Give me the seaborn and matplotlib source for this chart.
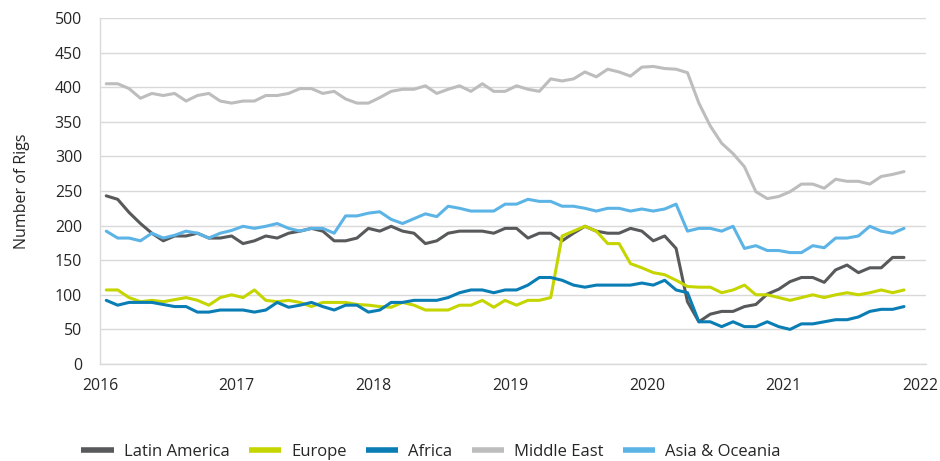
import numpy as np
import pandas as pd
import matplotlib
matplotlib.use("Agg")
import matplotlib.pyplot as plt
import seaborn as sns
from matplotlib.lines import Line2D

# Monthly rig counts, Jan 2016 .. Nov 2021
latin_america = [243, 238, 219, 203, 189, 178, 185, 185, 189, 182, 182, 185,
                 174, 178, 185, 182, 189, 192, 196, 192, 178, 178, 182, 196,
                 192, 199, 192, 189, 174, 178, 189, 192, 192, 192, 189, 196,
                 196, 182, 189, 189, 178, 189, 199, 192, 189, 189, 196, 192,
                 178, 185, 167, 90, 61, 72, 76, 76, 83, 86, 101, 108,
                 119, 125, 125, 118, 136, 143, 132, 139, 139, 154, 154]
europe = [107, 107, 96, 90, 92, 90, 93, 96, 92, 85, 96, 100,
          96, 107, 92, 90, 92, 89, 83, 89, 89, 89, 86, 85,
          83, 82, 89, 85, 78, 78, 78, 85, 85, 92, 82, 92,
          85, 92, 92, 96, 185, 192, 199, 192, 174, 174, 145, 139,
          132, 129, 121, 112, 111, 111, 103, 107, 114, 100, 100, 96,
          92, 96, 100, 96, 100, 103, 100, 103, 107, 103, 107]
africa = [92, 85, 89, 89, 89, 86, 83, 83, 75, 75, 78, 78,
          78, 75, 78, 89, 82, 85, 89, 83, 78, 85, 85, 75,
          78, 89, 89, 92, 92, 92, 96, 103, 107, 107, 103, 107,
          107, 114, 125, 125, 121, 114, 111, 114, 114, 114, 114, 117,
          114, 121, 107, 103, 61, 61, 54, 61, 54, 54, 61, 54,
          50, 58, 58, 61, 64, 64, 68, 76, 79, 79, 83]
middle_east = [405, 405, 398, 384, 391, 388, 391, 380, 388, 391, 380, 377,
               380, 380, 388, 388, 391, 398, 398, 391, 394, 383, 377, 377,
               385, 394, 397, 397, 402, 391, 397, 402, 394, 405, 394, 394,
               402, 397, 394, 412, 409, 412, 422, 415, 426, 422, 416, 429,
               430, 427, 426, 421, 377, 344, 319, 304, 285, 249, 239, 242,
               249, 260, 260, 254, 267, 264, 264, 260, 271, 274, 278]
asia_oceania = [192, 182, 182, 178, 189, 182, 186, 192, 189, 182, 189, 193,
                199, 196, 199, 203, 196, 192, 196, 196, 189, 214, 214, 218,
                220, 209, 203, 210, 217, 213, 228, 225, 221, 221, 221, 231,
                231, 238, 235, 235, 228, 228, 225, 221, 225, 225, 221, 224,
                221, 224, 231, 192, 196, 196, 192, 199, 167, 171, 164, 164,
                161, 161, 171, 168, 182, 182, 185, 199, 192, 189, 196]

series_names = ["Latin America", "Europe", "Africa", "Middle East", "Asia & Oceania"]
series_values = [latin_america, europe, africa, middle_east, asia_oceania]
colors = ["#58595b", "#c5d500", "#0a7db5", "#bdbdbd", "#5cb4e6"]
year_ticks = [2016, 2017, 2018, 2019, 2020, 2021, 2022]
y_ticks = [0, 50, 100, 150, 200, 250, 300, 350, 400, 450, 500]

n = len(latin_america)
months = np.arange(n)
time = 2016 + (months + 0.55) / 12.0

frames = []
for name, vals in zip(series_names, series_values):
    frames.append(pd.DataFrame({"time": time, "rigs": vals, "region": name}))
df = pd.concat(frames, ignore_index=True)

sns.set_theme(style="white")
plt.rcParams["font.family"] = ["Open Sans", "DejaVu Sans"]

fig = plt.figure(figsize=(9.4, 4.61), dpi=100)
ax = fig.add_axes([100 / 940, 97 / 461, 826 / 940, 346 / 461])

sns.lineplot(data=df, x="time", y="rigs", hue="region", hue_order=series_names,
             palette=dict(zip(series_names, colors)), linewidth=2.2, ax=ax,
             legend=False)

ax.set_xlim(2016, 2022.04)
ax.set_ylim(0, 500)
ax.set_xticks(year_ticks)
ax.set_xticklabels([str(y) for y in year_ticks])
ax.set_yticks(y_ticks)
ax.set_xlabel("")
ax.set_ylabel("Number of Rigs", fontsize=11.5, color="#262626", labelpad=18)

ax.yaxis.grid(True, color="#d9d9d9", linewidth=1.0)
ax.xaxis.grid(False)
for s in ["top", "right"]:
    ax.spines[s].set_visible(False)
for s in ["left", "bottom"]:
    ax.spines[s].set_color("#d9d9d9")
    ax.spines[s].set_linewidth(1.0)
ax.tick_params(axis="both", which="both", colors="#d9d9d9", length=5, width=1,
               labelcolor="#262626", labelsize=11.4)
ax.tick_params(axis="x", pad=5)
ax.tick_params(axis="y", pad=8)

handles = [Line2D([0], [0], color=c, linewidth=4, solid_capstyle="butt") for c in colors]
fig.legend(handles, series_names, loc="center", bbox_to_anchor=(431 / 940, 9 / 461),
           ncol=5, frameon=False, fontsize=12, handlelength=1.95,
           handletextpad=0.6, columnspacing=1.15, labelcolor="#262626")

fig.savefig("out.png", dpi=100)
